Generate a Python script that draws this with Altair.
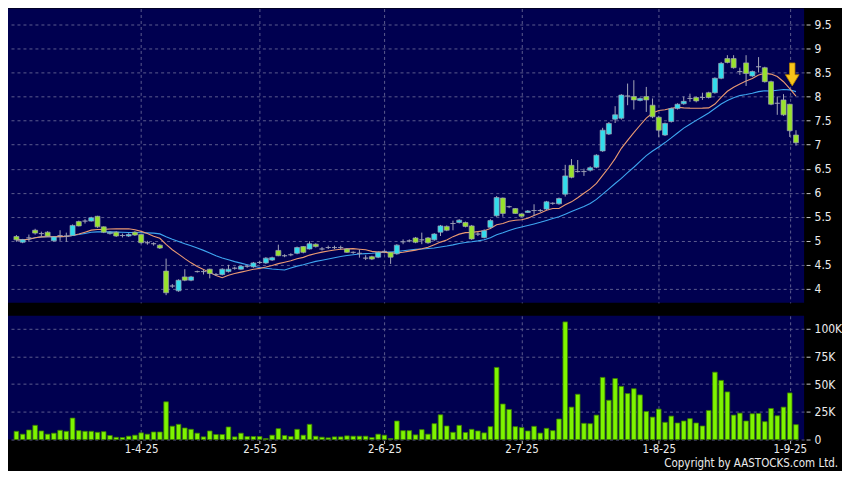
import altair as alt
import pandas as pd

# ---------------- data ----------------
opens = [5.09, 4.97, 5.06, 5.22, 5.15, 5.18, 5.00, 5.11, 5.10, 5.11,
         5.40, 5.41, 5.41, 5.51, 5.29, 5.15, 5.18, 5.11, 5.10, 5.18,
         5.13, 4.96, 4.94, 4.91, 4.37, 4.06, 3.96, 4.25, 4.18, 4.36,
         4.36, 4.41, 4.30, 4.30, 4.36, 4.43, 4.41, 4.47, 4.46, 4.55,
         4.54, 4.60, 4.80, 4.69, 4.71, 4.74, 4.88, 4.83, 4.93, 4.83,
         4.86, 4.86, 4.86, 4.83, 4.76, 4.74, 4.64, 4.67, 4.66, 4.78,
         4.76, 4.73, 4.98, 5.00, 5.06, 5.02, 5.06, 5.02, 5.18, 5.30,
         5.36, 5.38, 5.38, 5.31, 5.14, 5.07, 5.28, 5.52, 5.89, 5.71,
         5.67, 5.56, 5.59, 5.63, 5.63, 5.66, 5.78, 5.77, 5.97, 6.57,
         6.44, 6.44, 6.47, 6.53, 6.87, 7.22, 7.53, 7.55, 8.01, 8.00,
         7.92, 8.00, 7.82, 7.57, 7.20, 7.48, 7.75, 7.85, 7.96, 7.98,
         7.98, 8.08, 8.08, 8.38, 8.79, 8.79, 8.52, 8.70, 8.43, 8.62,
         8.60, 8.31, 7.86, 7.93, 7.84, 7.20]
highs = [5.12, 5.04, 5.13, 5.25, 5.19, 5.20, 5.10, 5.22, 5.17, 5.34,
         5.42, 5.45, 5.50, 5.52, 5.30, 5.20, 5.20, 5.15, 5.16, 5.20,
         5.14, 5.00, 4.97, 4.93, 4.63, 4.10, 4.20, 4.41, 4.27, 4.38,
         4.40, 4.42, 4.33, 4.43, 4.50, 4.46, 4.49, 4.50, 4.56, 4.58,
         4.66, 4.67, 4.92, 4.72, 4.74, 4.88, 4.89, 4.99, 4.95, 4.87,
         4.90, 4.90, 4.90, 4.85, 4.78, 4.82, 4.70, 4.69, 4.78, 4.80,
         4.77, 4.93, 5.03, 5.03, 5.08, 5.17, 5.08, 5.16, 5.33, 5.32,
         5.42, 5.45, 5.40, 5.33, 5.18, 5.24, 5.45, 5.93, 5.90, 5.73,
         5.68, 5.57, 5.64, 5.76, 5.66, 5.83, 5.80, 5.90, 6.58, 6.70,
         6.68, 6.50, 6.55, 6.80, 7.35, 7.47, 7.80, 8.05, 8.27, 8.34,
         7.98, 8.20, 7.96, 7.60, 7.46, 7.77, 7.86, 8.00, 8.06, 8.00,
         8.08, 8.10, 8.40, 8.72, 8.86, 8.86, 8.60, 8.86, 8.54, 8.82,
         8.62, 8.33, 8.00, 8.05, 7.85, 7.30]
lows = [4.98, 4.95, 4.98, 5.13, 5.10, 5.08, 4.98, 5.00, 4.98, 5.10,
        5.30, 5.36, 5.40, 5.27, 5.16, 5.13, 5.08, 5.07, 5.08, 5.10,
        4.94, 4.92, 4.90, 4.83, 3.87, 4.02, 3.94, 4.16, 4.16, 4.34,
        4.30, 4.22, 4.27, 4.28, 4.34, 4.40, 4.40, 4.44, 4.44, 4.52,
        4.52, 4.58, 4.68, 4.66, 4.68, 4.72, 4.74, 4.82, 4.86, 4.80,
        4.83, 4.83, 4.82, 4.75, 4.73, 4.65, 4.60, 4.60, 4.64, 4.74,
        4.52, 4.71, 4.93, 4.97, 4.95, 4.93, 4.94, 5.00, 5.10, 5.20,
        5.22, 5.36, 5.28, 5.02, 5.10, 5.05, 5.25, 5.50, 5.50, 5.68,
        5.56, 5.50, 5.58, 5.52, 5.60, 5.64, 5.75, 5.75, 5.92, 6.30,
        6.42, 6.35, 6.44, 6.51, 6.85, 7.20, 7.45, 7.52, 7.82, 7.73,
        7.90, 7.68, 7.55, 7.16, 7.18, 7.46, 7.73, 7.83, 7.89, 7.88,
        7.93, 7.96, 8.06, 8.36, 8.69, 8.58, 8.45, 8.22, 8.41, 8.50,
        8.29, 7.82, 7.62, 7.60, 7.16, 6.98]
closes = [5.02, 5.02, 5.06, 5.16, 5.15, 5.10, 5.08, 5.11, 5.10, 5.32,
          5.31, 5.41, 5.48, 5.29, 5.18, 5.18, 5.10, 5.11, 5.13, 5.12,
          4.96, 4.96, 4.94, 4.85, 3.92, 4.06, 4.18, 4.18, 4.25, 4.36,
          4.36, 4.32, 4.30, 4.41, 4.41, 4.43, 4.47, 4.47, 4.54, 4.55,
          4.64, 4.65, 4.69, 4.69, 4.71, 4.86, 4.76, 4.94, 4.88, 4.83,
          4.86, 4.86, 4.86, 4.76, 4.76, 4.74, 4.64, 4.62, 4.76, 4.78,
          4.66, 4.91, 4.98, 5.00, 4.97, 5.02, 4.96, 5.14, 5.31, 5.22,
          5.36, 5.43, 5.30, 5.04, 5.14, 5.21, 5.42, 5.90, 5.57, 5.71,
          5.57, 5.51, 5.62, 5.63, 5.63, 5.81, 5.78, 5.88, 6.35, 6.32,
          6.44, 6.44, 6.52, 6.78, 7.30, 7.44, 7.62, 8.03, 8.01, 7.93,
          7.96, 7.93, 7.58, 7.30, 7.44, 7.75, 7.84, 7.90, 7.96, 7.91,
          7.98, 7.98, 8.38, 8.69, 8.71, 8.60, 8.52, 8.48, 8.52, 8.62,
          8.31, 7.84, 7.86, 7.62, 7.29, 7.04]
volumes_k = [7.4, 4.8, 8.6, 12.8, 7.7, 4.8, 5.7, 8.3, 7.4, 19.3,
             8.0, 7.4, 7.4, 6.5, 7.1, 3.6, 2.0, 1.8, 3.0, 3.9,
             6.0, 4.8, 6.8, 6.8, 34.0, 12.0, 13.7, 10.4, 9.2, 5.7,
             2.4, 7.7, 4.5, 4.5, 11.3, 2.4, 5.7, 2.7, 2.7, 2.7,
             0.9, 3.9, 9.8, 3.6, 2.7, 9.2, 3.9, 13.7, 3.0, 2.1,
             1.5, 2.4, 2.4, 3.3, 3.0, 3.0, 3.0, 1.8, 4.8, 3.9,
             0.9, 16.7, 8.0, 8.0, 4.2, 8.9, 4.8, 14.3, 22.3, 12.2,
             6.5, 12.8, 6.3, 9.2, 7.7, 6.0, 11.6, 65.0, 32.0, 27.1,
             11.6, 10.7, 7.7, 11.9, 5.8, 10.1, 8.0, 18.5, 106.0, 29.2,
             40.8, 14.6, 14.3, 22.0, 56.0, 35.4, 55.0, 47.9, 41.4, 45.8,
             40.2, 25.3, 20.2, 27.4, 15.5, 21.1, 14.9, 16.7, 18.8, 14.9,
             12.2, 26.2, 60.7, 53.3, 42.9, 22.0, 23.8, 16.7, 23.2, 23.5,
             16.1, 28.0, 21.4, 29.2, 42.0, 13.4]

tick_idx = [20, 39, 59, 81, 103, 124]
tick_labels = ["1-4-25", "2-5-25", "2-6-25", "2-7-25", "1-8-25", "1-9-25"]
price_ticks = [4, 4.5, 5, 5.5, 6, 6.5, 7, 7.5, 8, 8.5, 9, 9.5]
vol_ticks = [0, 25, 50, 75, 100]
arrow_idx = [124.4]
arrow_price = [8.46]
copyright_text = ["Copyright by AASTOCKS.com Ltd."]

# ---------------- table ----------------
n = len(closes)
direction = ["up" if c > o else ("down" if c < o else "flat") for o, c in zip(opens, closes)]
df = pd.DataFrame({
    "i": list(range(n)), "open": opens, "high": highs, "low": lows,
    "close": closes, "vol": volumes_k, "dir": direction,
})

FONT = "DejaVu Sans Condensed, Liberation Sans Narrow, Liberation Sans"
GRID = "#5b5b8e"
X_DOMAIN = [-0.55, 125.5]
W, H_TOP, H_VOL = 798, 295, 124

label_expr = " : ".join(f"datum.value == {t} ? '{l}'" for t, l in zip(tick_idx, tick_labels)) + " : ''"

x_scale = alt.Scale(domain=X_DOMAIN, nice=False, zero=False)
x_top = alt.X("i:Q", scale=x_scale,
              axis=alt.Axis(values=tick_idx, labels=False, ticks=False, domain=False,
                            grid=True, gridColor=GRID, gridDash=[3, 3], title=None))
x_bot = alt.X("i:Q", scale=x_scale,
              axis=alt.Axis(values=tick_idx, labelExpr=label_expr, domain=False,
                            grid=True, gridColor=GRID, gridDash=[3, 3], title=None,
                            tickSize=3, offset=1, labelPadding=0, tickColor="#c8c8c8",
                            labelColor="#ececec", labelFont=FONT, labelFontSize=11.5))

p_scale = alt.Scale(domain=[3.71, 9.83], nice=False, zero=False)
p_axis = alt.Axis(orient="right", values=price_ticks, format="~g", title=None, domain=False,
                  grid=True, gridColor=GRID, gridDash=[3, 3], tickSize=4, offset=2,
                  labelPadding=4, tickColor="#c8c8c8", labelColor="#ececec",
                  labelFont=FONT, labelFontSize=12)


def py(field):
    return alt.Y(f"{field}:Q", scale=p_scale, axis=p_axis)


base = alt.Chart(df)

ma20 = base.transform_window(ma="mean(close)", frame=[-19, 0], sort=[alt.SortField("i")]).mark_line(
    color="#3ea6f0", strokeWidth=1.1, clip=True).encode(x=x_top, y=py("ma"))
ma10 = base.transform_window(ma="mean(close)", frame=[-9, 0], sort=[alt.SortField("i")]).mark_line(
    color="#eb9a72", strokeWidth=1.1, clip=True).encode(x=x_top, y=py("ma"))
wicks = base.mark_rule(color="#a4a6b8", strokeWidth=1, clip=True).encode(
    x=x_top, y=py("low"), y2="high:Q")
bodies = base.mark_bar(width=5, stroke="#9ea2b4", strokeWidth=0.7, clip=True).encode(
    x=x_top, y=py("open"), y2="close:Q",
    color=alt.Color("dir:N", legend=None,
                    scale=alt.Scale(domain=["up", "down", "flat"],
                                    range=["#32dcec", "#98e22c", "#b0b0b8"])))
arrow_path = "M-0.24,-1L0.24,-1L0.24,0.02L0.6,0.02L0,1L-0.6,0.02L-0.24,0.02Z"
arrow = alt.Chart(pd.DataFrame({"i": arrow_idx, "p": arrow_price})).mark_point(
    shape=arrow_path, size=529, filled=True, fill="#f7c41a", stroke="#b07c00",
    strokeWidth=0.8, opacity=1).encode(x=x_top, y=py("p"))

top = alt.layer(ma20, ma10, wicks, bodies, arrow).properties(width=W, height=H_TOP)

v_scale = alt.Scale(domain=[0, 111.5], nice=False, zero=True)
v_axis = alt.Axis(orient="right", values=vol_ticks, title=None, domain=False,
                  labelExpr="datum.value == 0 ? '0' : datum.value + 'K'",
                  grid=True, gridColor=GRID, gridDash=[3, 3], tickSize=4, offset=2,
                  labelPadding=4, tickColor="#c8c8c8", labelColor="#ececec",
                  labelFont=FONT, labelFontSize=12)
vol_bars = base.mark_bar(width=4.6, color="#7ef400", stroke="#3b7e00", strokeWidth=0.8).encode(
    x=x_bot, y=alt.Y("vol:Q", scale=v_scale, axis=v_axis))
copyright_mark = alt.Chart(pd.DataFrame({"t": copyright_text})).mark_text(
    align="right", baseline="alphabetic", font=FONT, fontSize=11.5, color="#ececec").encode(
    x=alt.value(832), y=alt.value(152), text="t:N")

vol = alt.layer(vol_bars, copyright_mark).properties(width=W, height=H_VOL)

chart = alt.vconcat(top, vol, spacing=13).resolve_scale(
    x="independent", y="independent", color="independent"
).properties(
    padding={"left": 0, "top": 0, "right": 0, "bottom": 0}
).configure(background="black").configure_view(fill="#000050", strokeWidth=0)

chart.save("out.html", embed_options={"renderer": "svg", "actions": False})
